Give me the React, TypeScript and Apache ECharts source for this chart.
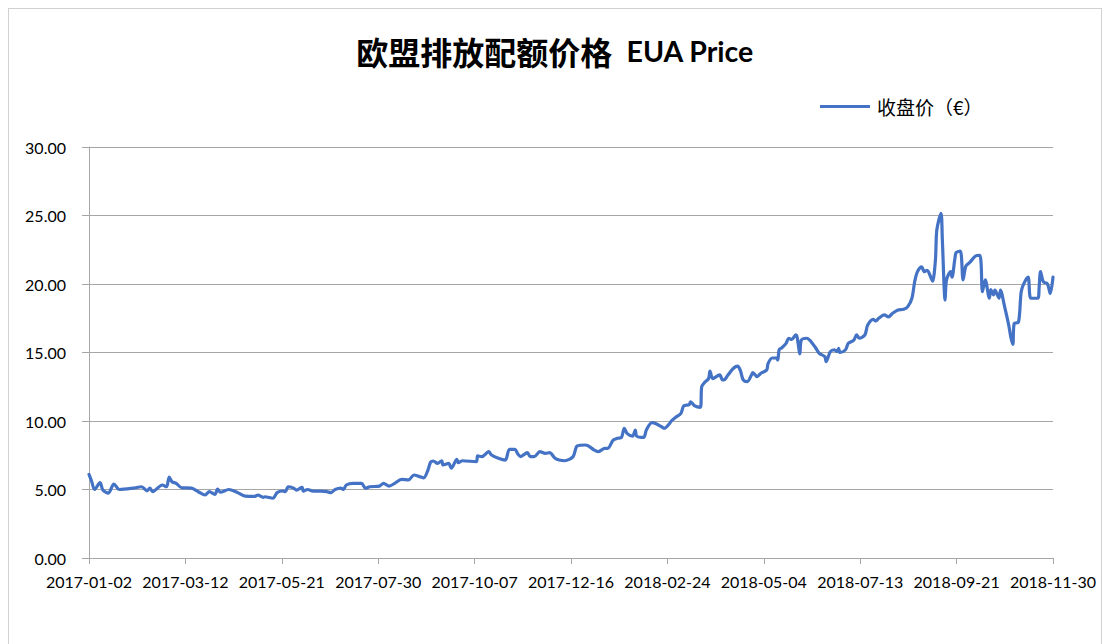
import React, { useEffect, useRef } from "react";
import * as echarts from "echarts";

const START_DATE = "2017-01-02";
const END_DATE = "2018-11-30";
const TITLE_CN = "欧盟排放配额价格";
const TITLE_EN = "EUA Price";
const SERIES_NAME = "收盘价（€）";
const Y_MIN = 0;
const Y_MAX = 30;
const Y_STEP = 5;
const X_TICK_DAYS = 69.7;

const dates: string[] = [
  "2017-01-02", "2017-01-04", "2017-01-06", "2017-01-10", "2017-01-12", "2017-01-16", "2017-01-20", "2017-01-24",
  "2017-02-03", "2017-02-09", "2017-02-13", "2017-02-15", "2017-02-17", "2017-02-24", "2017-02-27",
  "2017-03-01", "2017-03-03", "2017-03-06", "2017-03-10", "2017-03-17", "2017-03-22", "2017-03-27", "2017-03-30",
  "2017-04-03", "2017-04-05", "2017-04-07", "2017-04-13", "2017-04-19", "2017-04-25",
  "2017-05-02", "2017-05-04", "2017-05-08", "2017-05-09", "2017-05-15", "2017-05-18", "2017-05-22", "2017-05-24", "2017-05-26", "2017-05-30",
  "2017-06-01", "2017-06-05", "2017-06-06", "2017-06-09", "2017-06-13", "2017-06-19", "2017-06-23", "2017-06-26", "2017-06-29",
  "2017-07-03", "2017-07-05", "2017-07-07", "2017-07-12", "2017-07-18", "2017-07-21", "2017-07-24", "2017-07-31",
  "2017-08-03", "2017-08-07", "2017-08-11", "2017-08-16", "2017-08-21", "2017-08-25", "2017-08-29",
  "2017-09-01", "2017-09-04", "2017-09-06", "2017-09-08", "2017-09-11", "2017-09-14", "2017-09-15", "2017-09-19", "2017-09-21", "2017-09-25", "2017-09-26", "2017-09-29",
  "2017-10-09", "2017-10-10", "2017-10-13", "2017-10-18", "2017-10-20", "2017-10-25", "2017-10-30",
  "2017-11-02", "2017-11-06", "2017-11-08", "2017-11-10", "2017-11-15", "2017-11-17", "2017-11-20", "2017-11-24", "2017-11-28",
  "2017-12-01", "2017-12-05", "2017-12-08", "2017-12-12", "2017-12-18", "2017-12-21", "2017-12-27", "2017-12-29",
  "2018-01-02", "2018-01-05", "2018-01-10", "2018-01-12", "2018-01-16", "2018-01-19", "2018-01-22", "2018-01-24", "2018-01-26", "2018-01-30",
  "2018-02-01", "2018-02-02", "2018-02-07", "2018-02-09", "2018-02-13", "2018-02-16", "2018-02-20", "2018-02-22", "2018-02-26", "2018-02-27",
  "2018-03-02", "2018-03-06", "2018-03-08", "2018-03-12", "2018-03-13", "2018-03-16", "2018-03-20", "2018-03-21", "2018-03-23", "2018-03-26", "2018-03-27", "2018-03-29",
  "2018-04-03", "2018-04-05", "2018-04-06", "2018-04-09", "2018-04-13", "2018-04-16", "2018-04-18", "2018-04-20", "2018-04-23", "2018-04-26", "2018-04-27", "2018-04-30",
  "2018-05-03", "2018-05-07", "2018-05-08", "2018-05-11", "2018-05-14", "2018-05-15", "2018-05-16", "2018-05-18", "2018-05-21", "2018-05-23", "2018-05-25", "2018-05-28", "2018-05-29", "2018-05-31",
  "2018-06-01", "2018-06-05", "2018-06-08", "2018-06-11", "2018-06-14", "2018-06-18", "2018-06-19", "2018-06-22", "2018-06-25", "2018-06-27", "2018-06-28", "2018-06-29",
  "2018-07-03", "2018-07-05", "2018-07-09", "2018-07-11", "2018-07-13", "2018-07-17", "2018-07-19", "2018-07-23", "2018-07-25", "2018-07-27", "2018-07-31",
  "2018-08-03", "2018-08-06", "2018-08-10", "2018-08-14", "2018-08-17", "2018-08-20", "2018-08-22", "2018-08-24", "2018-08-27", "2018-08-29", "2018-08-31",
  "2018-09-03", "2018-09-04", "2018-09-06", "2018-09-07", "2018-09-10", "2018-09-11", "2018-09-13", "2018-09-14", "2018-09-17", "2018-09-18", "2018-09-20", "2018-09-21", "2018-09-24", "2018-09-26", "2018-09-28",
  "2018-10-01", "2018-10-05", "2018-10-08", "2018-10-09", "2018-10-10", "2018-10-12", "2018-10-15", "2018-10-16", "2018-10-18", "2018-10-19", "2018-10-22", "2018-10-23", "2018-10-26", "2018-10-29", "2018-10-30", "2018-10-31",
  "2018-11-01", "2018-11-02", "2018-11-05", "2018-11-07", "2018-11-09", "2018-11-12", "2018-11-14", "2018-11-19", "2018-11-20", "2018-11-21", "2018-11-23", "2018-11-26", "2018-11-28", "2018-11-30",
];

const closePrices: number[] = [
  6.10, 5.57, 5.00, 5.50, 4.96, 4.74, 5.40, 5.00,
  5.10, 5.20, 4.90, 5.10, 4.85, 5.33, 5.20,
  5.90, 5.57, 5.45, 5.13, 5.10, 4.84, 4.60, 4.84,
  4.65, 5.03, 4.80, 5.00, 4.80, 4.52,
  4.50, 4.60, 4.43, 4.47, 4.36, 4.77, 4.89, 4.84, 5.20, 5.10,
  4.96, 5.15, 4.88, 5.00, 4.88, 4.88, 4.84, 4.77, 5.00,
  5.10, 5.00, 5.33, 5.45, 5.45, 5.09, 5.20, 5.25,
  5.45, 5.25, 5.45, 5.74, 5.70, 6.06, 5.94,
  5.85, 6.40, 7.00, 7.08, 6.90, 7.10, 6.79, 6.90, 6.55, 7.20, 6.96, 7.10,
  7.03, 7.45, 7.40, 7.76, 7.52, 7.28, 7.15,
  7.93, 7.93, 7.60, 7.40, 7.69, 7.40, 7.40, 7.76, 7.64,
  7.69, 7.28, 7.15, 7.10, 7.40, 8.18, 8.25, 8.18,
  7.90, 7.76, 8.00, 8.00, 8.60, 8.74, 8.80, 9.47, 9.10, 8.90,
  9.34, 8.90, 8.80, 9.34, 9.88, 9.80, 9.58, 9.47, 9.85, 10.00,
  10.26, 10.56, 11.10, 11.20, 11.40, 11.10, 11.00, 12.50, 12.80, 13.10, 13.65, 13.10,
  13.36, 13.00, 13.00, 13.36, 13.85, 14.00, 13.67, 13.00, 12.87, 13.36, 13.53, 13.24,
  13.50, 13.72, 14.20, 14.60, 14.60, 14.45, 15.20, 15.35, 15.67, 16.04, 15.95, 16.28, 16.10, 14.90,
  15.90, 16.04, 15.80, 15.40, 14.94, 14.70, 14.33, 15.06, 15.20, 15.06, 15.30, 15.00,
  15.20, 15.67, 15.90, 16.28, 16.04, 16.28, 17.00, 17.42, 17.30, 17.50, 17.74,
  17.60, 17.86, 18.10, 18.15, 18.35, 18.96, 20.17, 20.90, 21.26, 20.90, 21.00,
  20.40, 20.20, 21.75, 23.94, 25.16, 23.20, 18.83, 20.30, 20.90, 20.50, 21.80, 22.30, 22.40, 20.30, 21.30,
  21.60, 22.04, 22.10, 21.50, 19.44, 20.30, 18.96, 19.60, 19.20, 19.56, 18.96, 19.56, 18.35, 17.00, 16.40, 15.90,
  15.60, 17.13, 17.20, 19.44, 20.05, 20.50, 18.96, 18.96, 19.80, 20.90, 20.17, 20.00, 19.30, 20.50,
];

const DAY_MS = 86400000;
const startMs = Date.parse(START_DATE);
const dayOf = (d: string) => Math.round((Date.parse(d) - startMs) / DAY_MS);
const labelOf = (v: number) =>
  new Date(startMs + Math.floor(v + 1e-6) * DAY_MS).toISOString().slice(0, 10);

export default function App() {
  const ref = useRef<HTMLDivElement>(null);

  useEffect(() => {
    if (!ref.current) return;
    const chart = echarts.init(ref.current, undefined, { renderer: "svg" });
    const seriesData = dates.map((d, i) => [dayOf(d), closePrices[i]]);
    const axisGray = "#a6a6a6";

    chart.setOption({
      animation: false,
      backgroundColor: "#ffffff",
      title: {
        text: `{a|${TITLE_CN}}{b|  ${TITLE_EN}}`,
        left: "center",
        top: 21,
        textStyle: {
          rich: {
            a: { fontFamily: "Noto Sans CJK SC", fontSize: 32, fontWeight: "bold", color: "#000" },
            b: { fontFamily: "Lato", fontSize: 28.5, fontWeight: "bold", color: "#000" },
          },
        },
      },
      legend: {
        data: [SERIES_NAME],
        left: 806,
        top: 83,
        icon: "rect",
        itemWidth: 50,
        itemHeight: 3,
        textStyle: { fontFamily: "Noto Sans CJK SC", fontSize: 19, color: "#000", padding: [0, 0, 0, 2] },
      },
      grid: { left: 80, top: 138, width: 964, height: 411, containLabel: false },
      xAxis: {
        type: "value",
        min: 0,
        max: dayOf(END_DATE),
        interval: X_TICK_DAYS,
        axisLine: { show: true, lineStyle: { color: axisGray, width: 1 } },
        axisTick: { show: true, length: 6, lineStyle: { color: axisGray } },
        splitLine: { show: false },
        axisLabel: {
          formatter: (v: number) => labelOf(v),
          fontFamily: "Lato",
          fontSize: 16,
          color: "#000",
          margin: 15,
          showMinLabel: true,
          showMaxLabel: true,
          hideOverlap: false,
        },
      },
      yAxis: {
        type: "value",
        min: Y_MIN,
        max: Y_MAX,
        interval: Y_STEP,
        axisLine: { show: true, lineStyle: { color: axisGray, width: 1 } },
        axisTick: { show: true, length: 7, lineStyle: { color: axisGray } },
        splitLine: { show: true, lineStyle: { color: axisGray, width: 1 } },
        axisLabel: {
          formatter: (v: number) => v.toFixed(2),
          fontFamily: "Lato",
          fontSize: 16,
          color: "#000",
          margin: 23,
        },
      },
      series: [
        {
          name: SERIES_NAME,
          type: "line",
          data: seriesData,
          showSymbol: false,
          smooth: 0.3,
          color: "#4472C4",
          lineStyle: { color: "#4472C4", width: 3.2, join: "round", cap: "round" },
        },
      ],
    });

    return () => chart.dispose();
  }, []);

  return (
    <div
      style={{
        width: 1094,
        height: 642,
        border: "1px solid #d0d0d0",
        boxSizing: "border-box",
        background: "#fff",
      }}
    >
      <div ref={ref} style={{ width: 1092, height: 640 }} />
    </div>
  );
}
